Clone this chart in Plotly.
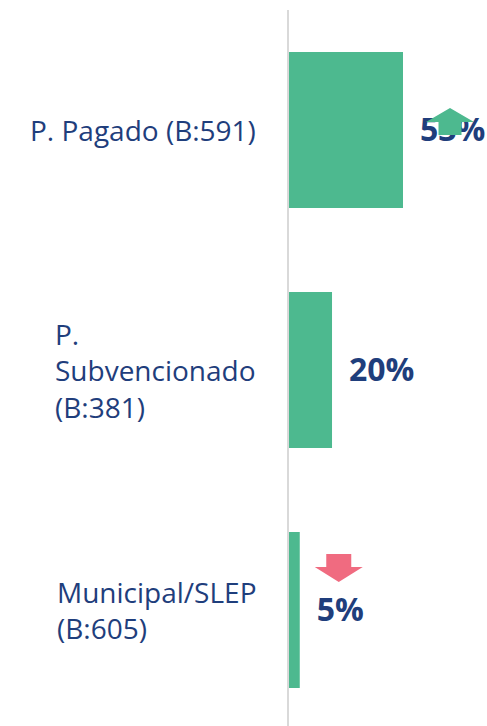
import plotly.graph_objects as go

# ---- data ----
categories = ["P. Pagado (B:591)", "P.<br>Subvencionado<br>(B:381)", "Municipal/SLEP<br>(B:605)"]
values = [53, 20, 5]
value_labels = ["53%", "20%", "5%"]
trends = ["up", None, "down"]

# ---- style ----
GREEN = "#4DB98F"
RED = "#F06B80"
NAVY = "#1F3E7C"
FONT = "Open Sans"

ypos = list(range(len(categories)))

fig = go.Figure()
fig.add_trace(go.Bar(
    x=values, y=ypos, orientation="h",
    marker=dict(color=GREEN, line=dict(width=0)),
    width=0.65, hoverinfo="skip",
))
# value labels (scatter text so that the arrow shapes can sit on top of them)
fig.add_trace(go.Scatter(
    x=values, y=[p + 0.012 for p in ypos], mode="markers+text",
    text=value_labels, textposition="middle right",
    marker=dict(size=25.6, opacity=0),
    textfont=dict(family=FONT, size=32, color=NAVY, weight="bold"),
    hoverinfo="skip", cliponaxis=False,
))

# category labels
for i, c in enumerate(categories):
    fig.add_annotation(
        x=0, y=i, xref="x", yref="y", text=c, showarrow=False,
        xanchor="right", yanchor="middle", align="left", xshift=-31,
        font=dict(family=FONT, size=28, color=NAVY),
    )

# trend arrows (pixel-sized, anchored at the bar end)
arrow_style = {
    "up":   dict(cx=47, base=-5, neck=8, tip=22, stem=11.5, head=24, color=GREEN),
    "down": dict(cx=39, base=56, neck=43, tip=28, stem=12.5, head=24, color=RED),
}
for i, (v, t) in enumerate(zip(values, trends)):
    if t is None:
        continue
    s = arrow_style[t]
    cx = s["cx"]
    path = (f"M{cx - s['stem']},{s['base']} L{cx - s['stem']},{s['neck']} "
            f"L{cx - s['head']},{s['neck']} L{cx},{s['tip']} "
            f"L{cx + s['head']},{s['neck']} L{cx + s['stem']},{s['neck']} "
            f"L{cx + s['stem']},{s['base']} Z")
    fig.add_shape(
        type="path", path=path, xref="x", yref="y",
        xsizemode="pixel", ysizemode="pixel", xanchor=v, yanchor=i,
        fillcolor=s["color"], line=dict(width=0), layer="above",
    )

fig.update_layout(
    width=487, height=726,
    margin=dict(l=289, r=0, t=10, b=0),
    paper_bgcolor="white", plot_bgcolor="white",
    showlegend=False,
    xaxis=dict(range=[0, 92.05], visible=False, fixedrange=True),
    yaxis=dict(range=[2.4833, -0.5], showticklabels=False, showgrid=False,
               zeroline=False, showline=True, linecolor="#D9D9D9", linewidth=2,
               ticks="", fixedrange=True),
)

fig.write_html(
    "out.html",
    config={"displayModeBar": False},
    post_script="document.body.style.margin='0';document.body.style.overflow='hidden';",
)
